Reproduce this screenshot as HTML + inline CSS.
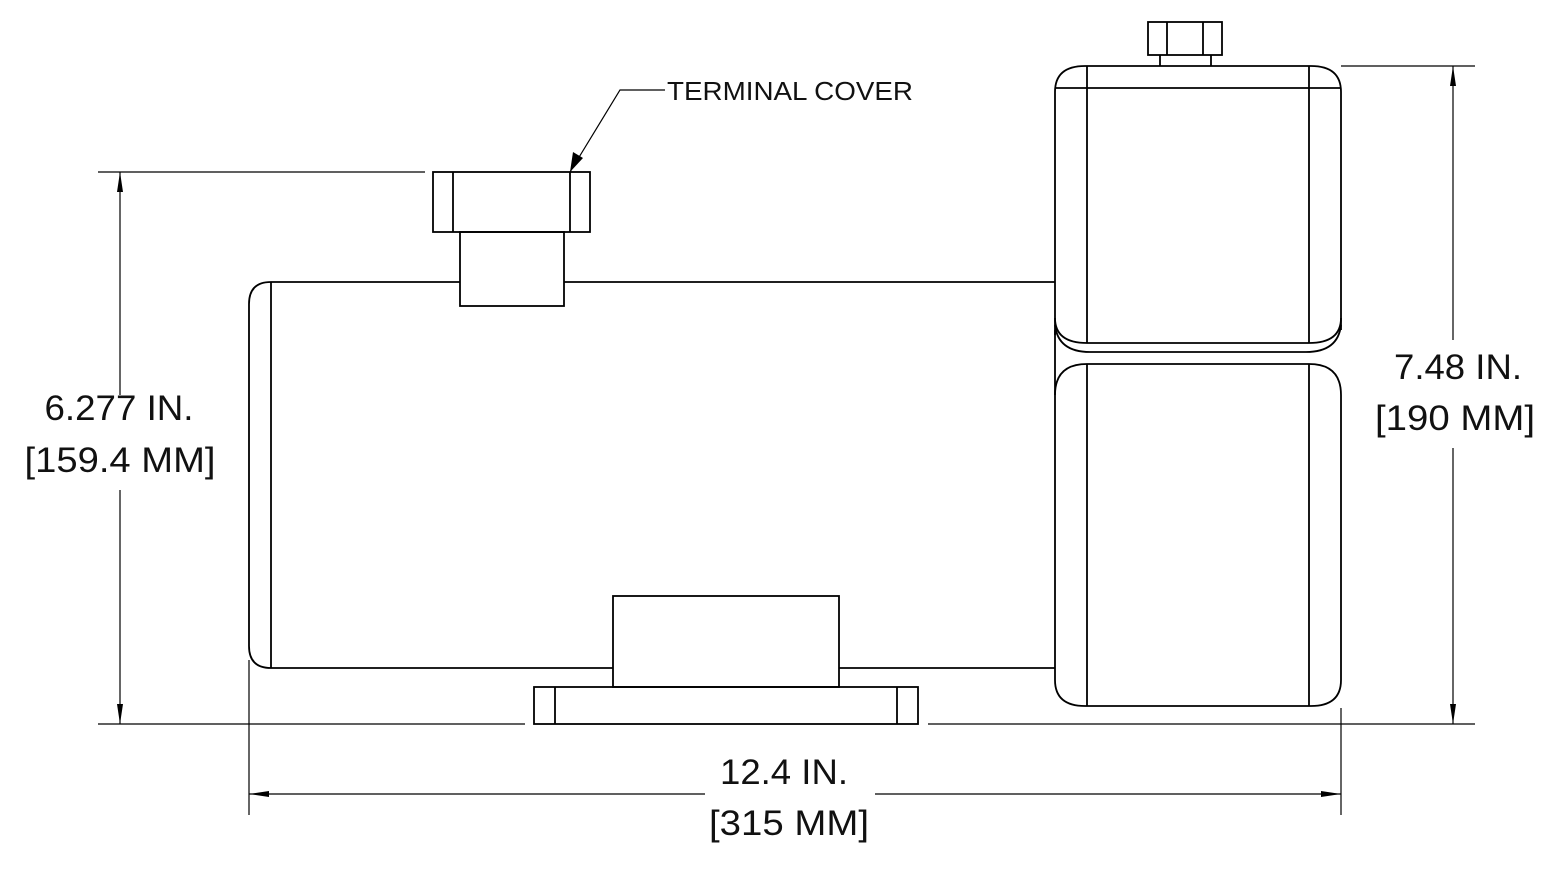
<!DOCTYPE html>
<html><head><meta charset="utf-8"><style>
html,body{margin:0;padding:0;background:#fff}
svg{display:block}
text{font-family:"Liberation Sans",sans-serif;fill:#111}
</style></head><body>
<svg width="1552" height="882" viewBox="0 0 1552 882" xmlns="http://www.w3.org/2000/svg">
<defs>
<marker id="a" viewBox="0 0 20 8" refX="20" refY="4" markerWidth="20" markerHeight="8" markerUnits="userSpaceOnUse" orient="auto"><path d="M0,1 L20,4 L0,7 Z" fill="#000"/></marker>
</defs>
<g fill="none" stroke="#000" stroke-width="1.8">
<path d="M271,282 H460 M564,282 H1055 M271,668 H613 M839,668 H1055"/>
<path d="M271,282 Q249,282 249,304 V646 Q249,668 271,668"/>
<line x1="271" y1="282" x2="271" y2="668"/>
<rect x="433" y="172" width="157" height="60"/>
<path d="M453,172 V232 M570,172 V232"/>
<rect x="460" y="232" width="104" height="74"/>
<rect x="613" y="596" width="226" height="91"/>
<rect x="534" y="687" width="384" height="37"/>
<path d="M555,687 V724 M897,687 V724"/>
<path d="M1055,335 V92 Q1055,66 1085,66 H1311 Q1341,66 1341,92 V330"/>
<path d="M1055,88 H1341 M1087,66 V343 M1309,66 V343"/>
<path d="M1055,318 Q1055,343 1087,343 H1309 Q1341,343 1341,318"/>
<path d="M1055,325 Q1058,352 1090,352 H1306 Q1338,352 1341,325"/>
<path d="M1055,395 Q1055,364 1087,364 H1309 Q1341,364 1341,395 V680 Q1341,706 1311,706 H1085 Q1055,706 1055,680 Z"/>
<path d="M1087,364 V706 M1309,364 V706 M1055,330 V395"/>
<rect x="1148" y="22" width="74" height="33"/>
<path d="M1167,22 V55 M1203,22 V55 M1160,55 V66 M1211,55 V66"/>
</g>
<g fill="none" stroke="#000" stroke-width="1.2">
<path d="M98,172 H425 M98,724 H525 M928,724 H1475 M1341,66 H1475 M249,660 V815 M1341,708 V815"/>
<path d="M570,172 L620,90 H665"/>
<line x1="120" y1="395" x2="120" y2="172" marker-end="url(#a)"/>
<line x1="120" y1="490" x2="120" y2="724" marker-end="url(#a)"/>
<line x1="1453" y1="340" x2="1453" y2="66" marker-end="url(#a)"/>
<line x1="1453" y1="448" x2="1453" y2="724" marker-end="url(#a)"/>
<line x1="705" y1="794" x2="249" y2="794" marker-end="url(#a)"/>
<line x1="875" y1="794" x2="1341" y2="794" marker-end="url(#a)"/>
</g>
<path d="M570,172 L573,152 L583,158 Z" fill="#000"/>
<text x="667" y="100" font-size="26" textLength="246" lengthAdjust="spacingAndGlyphs">TERMINAL COVER</text>
<g font-size="35" text-anchor="middle">
<text x="119" y="420" textLength="149" lengthAdjust="spacingAndGlyphs">6.277 IN.</text>
<text x="120" y="472" textLength="191" lengthAdjust="spacingAndGlyphs">[159.4 MM]</text>
<text x="1458" y="379" textLength="128" lengthAdjust="spacingAndGlyphs">7.48 IN.</text>
<text x="1455" y="430" textLength="160" lengthAdjust="spacingAndGlyphs">[190 MM]</text>
<text x="784" y="784" textLength="128" lengthAdjust="spacingAndGlyphs">12.4 IN.</text>
<text x="789" y="835" textLength="160" lengthAdjust="spacingAndGlyphs">[315 MM]</text>
</g>
</svg>
</body></html>
